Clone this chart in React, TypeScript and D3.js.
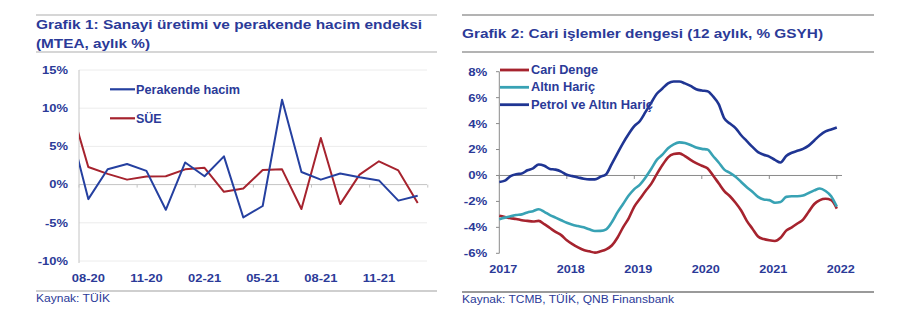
import React from 'react';
import * as d3 from 'd3';

// ---------- Chart 1 data ----------
const c1Months = ['07-20','08-20','09-20','10-20','11-20','12-20','01-21','02-21','03-21','04-21','05-21','06-21','07-21','08-21','09-21','10-21','11-21','12-21','01-22'];
const c1Retail = [8.0, -1.9, 2.0, 2.7, 1.8, -3.3, 2.9, 1.1, 3.7, -4.3, -2.8, 11.1, 1.65, 0.65, 1.45, 0.95, 0.55, -2.1, -1.45];
const c1Industry = [11.0, 2.3, 1.4, 0.65, 1.05, 1.1, 2.0, 2.2, -0.95, -0.5, 1.9, 2.0, -3.2, 6.1, -2.55, 1.3, 3.05, 1.85, -2.4];
const c1YTicks = [15, 10, 5, 0, -5, -10];
const c1XLabelIdx = [1, 4, 7, 10, 13, 16];

// ---------- Chart 2 data (monthly, Jan 2017 .. Jan 2022) ----------
const c2Years = ['2017', '2018', '2019', '2020', '2021', '2022'];
const c2Cari = [
  -3.1, -3.2, -3.3, -3.35, -3.45, -3.5, -3.55, -3.5, -3.75, -4.05, -4.35, -4.6,
  -5.0, -5.3, -5.55, -5.75, -5.85, -5.95, -5.85, -5.7, -5.4, -4.8, -4.0, -3.3,
  -2.4, -1.8, -1.2, -0.65, 0.1, 0.8, 1.4, 1.65, 1.7, 1.5, 1.2, 0.95,
  0.75, 0.55, 0.0, -0.6, -1.2, -1.6, -2.1, -2.7, -3.5, -4.1, -4.7, -4.9,
  -5.0, -5.05, -4.8, -4.25, -4.0, -3.7, -3.4, -2.8, -2.2, -1.9, -1.8, -1.9,
  -2.55,
];
const c2AltinHaric = [
  -3.37, -3.25, -3.15, -3.05, -3.0, -2.85, -2.75, -2.6, -2.8, -3.05, -3.25, -3.45,
  -3.65, -3.8, -3.9, -4.0, -4.15, -4.28, -4.27, -4.15, -3.6, -2.85, -2.2, -1.55,
  -1.05, -0.7, -0.15, 0.5, 1.2, 1.6, 2.1, 2.4, 2.55, 2.5, 2.35, 2.15,
  2.05, 2.0, 1.5, 1.0, 0.45, 0.2, -0.1, -0.5, -0.9, -1.25, -1.65, -1.85,
  -1.9, -2.1, -2.05, -1.65, -1.6, -1.6, -1.55, -1.35, -1.15, -1.0, -1.2, -1.6,
  -2.4,
];
const c2PetrolAltinHaric = [
  -0.5, -0.4, -0.05, 0.1, 0.15, 0.4, 0.55, 0.85, 0.75, 0.5, 0.45, 0.3,
  0.05, -0.05, -0.15, -0.25, -0.3, -0.3, -0.1, 0.1, 0.9, 1.7, 2.5, 3.2,
  3.8, 4.2, 4.9, 5.6, 6.3, 6.7, 7.1, 7.25, 7.25, 7.1, 6.9, 6.65,
  6.55, 6.5, 6.1, 5.5, 4.4, 4.0, 3.65, 3.1, 2.65, 2.2, 1.8, 1.6,
  1.45, 1.2, 1.0, 1.5, 1.75, 1.9, 2.05, 2.3, 2.7, 3.1, 3.4, 3.55,
  3.7,
];
const c2YTicks = [8, 6, 4, 2, 0, -2, -4, -6];

const TXT = '#2b3a98';
const FONT = 'Liberation Sans, Arial, sans-serif';
const RED = '#a6232e';
const BLUE1 = '#2540a0';
const TEAL = '#38a2b4';
const BLUE2 = '#1f3593';

function SText(props: { x: number; y: number; sx?: number; anchor?: string; size: number; bold?: boolean; dy?: string; children: React.ReactNode }) {
  const { x, y, sx = 1.2, anchor = 'start', size, bold = true, dy, children } = props;
  return (
    <text transform={`translate(${x},${y}) scale(${sx},1)`} dy={dy} textAnchor={anchor} fontSize={size} fontWeight={bold ? 'bold' : 'normal'} fill={TXT}>
      {children}
    </text>
  );
}

export default function App() {
  // chart 1 scales
  const x1 = d3.scaleLinear().domain([0.52, 18.48]).range([79, 427]);
  const y1 = d3.scaleLinear().domain([-10, 15]).range([261, 70]);
  const line1 = d3.line<number>().x((_, i) => x1(i)).y((d) => y1(d));
  const c1Ticks = d3.range(0, 7).map((k) => 0.52 + 3 * k);

  // chart 2 scales
  const x2 = d3.scaleLinear().domain([0, 60]).range([499.3, 836.8]);
  const y2 = d3.scaleLinear().domain([-6, 8]).range([253.3, 71.7]);
  const line2 = d3.line<number>().x((_, i) => x2(i)).y((d) => y2(d)).curve(d3.curveMonotoneX);

  const legend2 = [
    { name: 'Cari Denge', color: RED, w: 67 },
    { name: 'Altın Hariç', color: TEAL, w: 64 },
    { name: 'Petrol ve Altın Hariç', color: BLUE2, w: 122 },
  ];
  const legend2Y = [70, 87.3, 104.7];

  return (
    <svg width={900} height={336} style={{ position: 'absolute', left: 0, top: 0, background: '#fff' }} fontFamily={FONT}>
      <defs>
        <clipPath id="clip1">
          <rect x={79} y={60} width={348} height={210} />
        </clipPath>
      </defs>
      <rect x={0} y={0} width={900} height={336} fill="#fff" />

      {/* ---------- Chart 1 header ---------- */}
      <line x1={36} x2={437} y1={15} y2={15} stroke="#c8c8c8" strokeWidth={1.5} />
      <text x={36} y={28.7} fontSize={12.5} fontWeight="bold" fill={TXT} textLength={386} lengthAdjust="spacingAndGlyphs">
        Grafik 1: Sanayi üretimi ve perakende hacim endeksi
      </text>
      <text x={36} y={48} fontSize={12.5} fontWeight="bold" fill={TXT} textLength={114} lengthAdjust="spacingAndGlyphs">
        (MTEA, aylık %)
      </text>
      <line x1={36} x2={437} y1={52} y2={52} stroke="#c8c8c8" strokeWidth={1.5} />

      {/* gridlines */}
      {c1YTicks.filter((v) => v !== 0).map((v) => (
        <line key={v} x1={79} x2={427} y1={y1(v)} y2={y1(v)} stroke="#ececec" strokeWidth={1} />
      ))}
      <line x1={79} x2={79} y1={y1(15)} y2={y1(-10) + 2} stroke="#c4c4c4" strokeWidth={1} />
      <line x1={79} x2={427} y1={y1(0)} y2={y1(0)} stroke="#c4c4c4" strokeWidth={1} />
      {c1Ticks.map((t) => (
        <line key={t} x1={x1(t)} x2={x1(t)} y1={y1(0)} y2={y1(0) + 3} stroke="#c4c4c4" strokeWidth={1} />
      ))}
      {c1YTicks.map((v) => (
        <SText key={v} x={68} y={y1(v)} dy="0.36em" anchor="end" size={10.8}>
          {v}%
        </SText>
      ))}
      {c1XLabelIdx.map((i) => (
        <SText key={i} x={x1(i)} y={282.3} anchor="middle" size={10.8}>
          {c1Months[i]}
        </SText>
      ))}
      <g clipPath="url(#clip1)">
        <path d={line1(c1Industry) || ''} fill="none" stroke={RED} strokeWidth={2} strokeLinejoin="round" />
        <path d={line1(c1Retail) || ''} fill="none" stroke={BLUE1} strokeWidth={2} strokeLinejoin="round" />
      </g>
      {/* legend 1 */}
      <line x1={110} x2={135} y1={89.3} y2={89.3} stroke={BLUE1} strokeWidth={2.2} />
      <text x={136} y={94} fontSize={12} fontWeight="bold" fill={TXT} textLength={104} lengthAdjust="spacingAndGlyphs">
        Perakende hacim
      </text>
      <line x1={110} x2={135} y1={118.3} y2={118.3} stroke={RED} strokeWidth={2.2} />
      <text x={136} y={122.7} fontSize={12} fontWeight="bold" fill={TXT} textLength={25.7} lengthAdjust="spacingAndGlyphs">
        SÜE
      </text>

      {/* footer 1 */}
      <line x1={36} x2={437} y1={291} y2={291} stroke="#cfcfcf" strokeWidth={2} />
      <text x={36} y={302} fontSize={10} fill={TXT} textLength={74} lengthAdjust="spacingAndGlyphs">
        Kaynak: TÜİK
      </text>

      {/* ---------- Chart 2 header ---------- */}
      <line x1={462} x2={874} y1={15} y2={15} stroke="#9a9a9a" strokeWidth={1.5} />
      <text x={462} y={37.7} fontSize={12.5} fontWeight="bold" fill={TXT} textLength={361} lengthAdjust="spacingAndGlyphs">
        Grafik 2: Cari işlemler dengesi (12 aylık, % GSYH)
      </text>
      <line x1={462} x2={874} y1={52} y2={52} stroke="#9a9a9a" strokeWidth={1.5} />

      {/* axes 2 */}
      <line x1={499.3} x2={499.3} y1={y2(8)} y2={y2(-6)} stroke="#8a8a8a" strokeWidth={1} />
      {c2YTicks.map((v) => (
        <line key={'t' + v} x1={496} x2={499.3} y1={y2(v)} y2={y2(v)} stroke="#8a8a8a" strokeWidth={1} />
      ))}
      <line x1={499.3} x2={842} y1={y2(0)} y2={y2(0)} stroke="#8a8a8a" strokeWidth={1} />
      {c2Years.map((yr, k) => (
        <line key={'xt' + yr} x1={x2(12 * k)} x2={x2(12 * k)} y1={y2(0)} y2={y2(0) + 3.5} stroke="#8a8a8a" strokeWidth={1} />
      ))}
      {c2YTicks.map((v) => (
        <SText key={v} x={487.3} y={y2(v)} dy="0.36em" anchor="end" size={11}>
          {v}%
        </SText>
      ))}
      {c2Years.map((yr, k) => (
        <SText key={yr} x={x2(12 * k) + 4} y={273.3} anchor="middle" size={11.5} sx={1.1}>
          {yr}
        </SText>
      ))}

      <path d={line2(c2Cari) || ''} fill="none" stroke={RED} strokeWidth={2.6} strokeLinejoin="round" />
      <path d={line2(c2AltinHaric) || ''} fill="none" stroke={TEAL} strokeWidth={2.6} strokeLinejoin="round" />
      <path d={line2(c2PetrolAltinHaric) || ''} fill="none" stroke={BLUE2} strokeWidth={2.6} strokeLinejoin="round" />

      {/* legend 2 */}
      {legend2.map((l, i) => (
        <g key={l.name}>
          <line x1={500} x2={529} y1={legend2Y[i]} y2={legend2Y[i]} stroke={l.color} strokeWidth={2.8} />
          <text x={531} y={legend2Y[i] + 3.8} fontSize={12.5} fontWeight="bold" fill={TXT} textLength={l.w} lengthAdjust="spacingAndGlyphs">
            {l.name}
          </text>
        </g>
      ))}

      {/* footer 2 */}
      <line x1={462} x2={874} y1={292} y2={292} stroke="#9a9a9a" strokeWidth={2} />
      <text x={462} y={303.3} fontSize={10} fill={TXT} textLength={212} lengthAdjust="spacingAndGlyphs">
        Kaynak: TCMB, TÜİK, QNB Finansbank
      </text>
    </svg>
  );
}
